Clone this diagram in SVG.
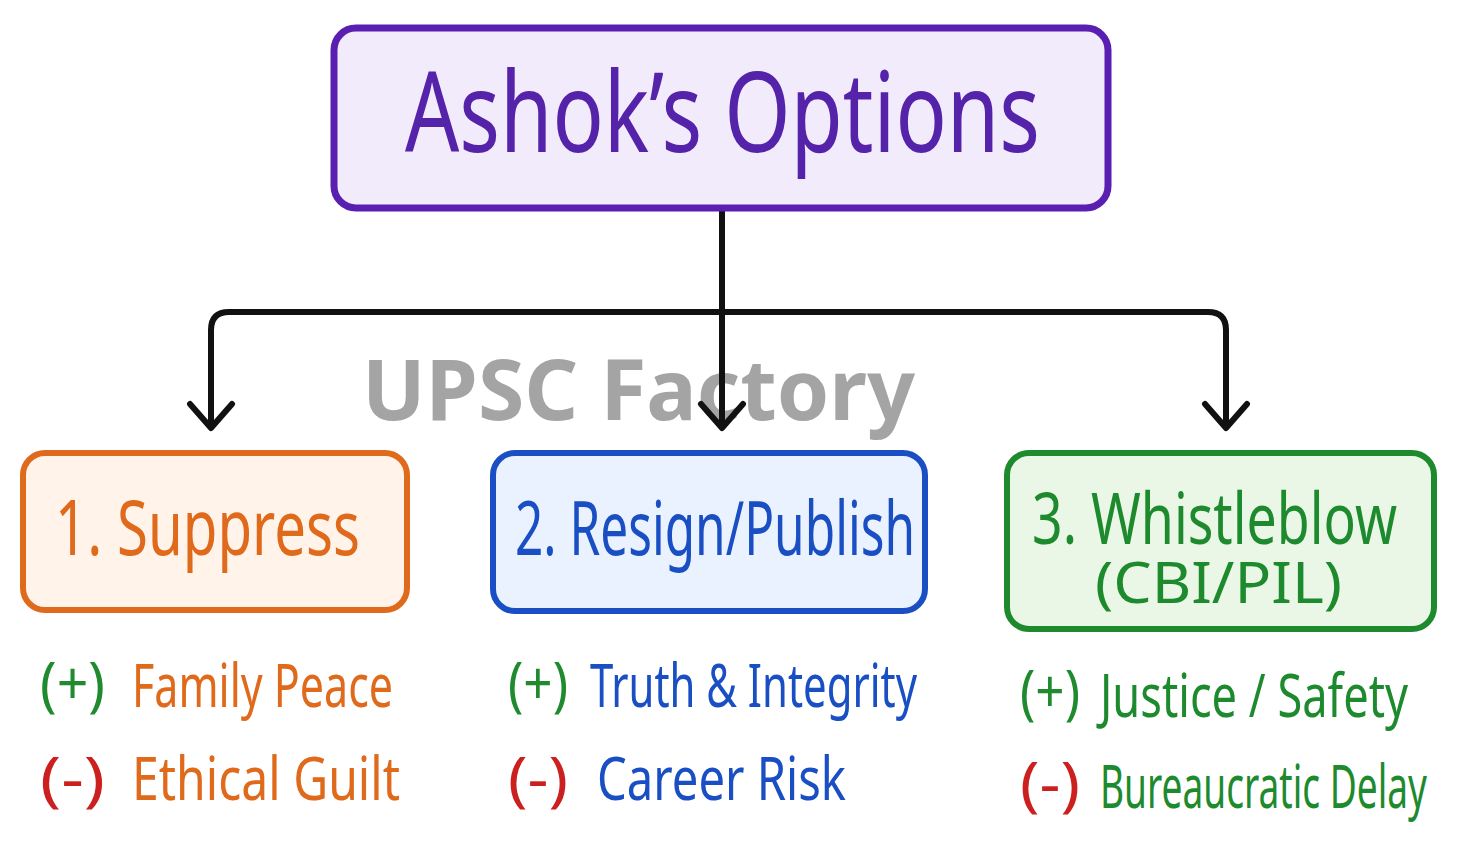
<svg xmlns="http://www.w3.org/2000/svg" width="1459" height="856" viewBox="0 0 1459 856">
<defs>
<style>
text{font-family:"Noto Sans","Liberation Sans",sans-serif;}
.box{stroke-width:6;}
.conn{fill:none;stroke:#111;stroke-width:6;stroke-linecap:round;stroke-linejoin:round;}
.head{fill:none;stroke:#111;stroke-width:6;stroke-linecap:round;stroke-linejoin:round;}
.pos{fill:#1f8a2e;}
.neg{fill:#cc1f1f;}
.item{font-size:60px;}
</style>
</defs>
<rect width="1459" height="856" fill="#ffffff"/>
<text x="362" y="420" font-size="84" font-weight="bold" fill="#9a9a9a" fill-opacity="0.9" textLength="553" lengthAdjust="spacingAndGlyphs">UPSC Factory</text>
<g id="connectors">
<path class="conn" d="M722 210 V426"/>
<path class="conn" d="M211 426 V330 Q211 312 229 312 H1208 Q1226 312 1226 330 V426"/>
<path class="head" d="M190 404 L211 428 L232 404"/>
<path class="head" d="M701 404 L722 428 L743 404"/>
<path class="head" d="M1205 404 L1226 428 L1247 404"/>
</g>
<g id="title">
<rect x="334" y="28" width="774" height="180" rx="22" fill="#f1ebfb" stroke="#5a1fb0" stroke-width="7"/>
<text x="405" y="152" font-size="112" fill="#5522aa" textLength="635" lengthAdjust="spacingAndGlyphs">Ashok’s Options</text>
</g>
<g id="opt1">
<rect x="23" y="453" width="384" height="157" rx="22" fill="#fff3ea" stroke="#e06a1c" class="box"/>
<text x="55" y="555" font-size="76" fill="#e06a1c" textLength="305" lengthAdjust="spacingAndGlyphs">1. Suppress</text>
</g>
<g id="opt2">
<rect x="493" y="453" width="432" height="158" rx="22" fill="#eaf2ff" stroke="#1a4fc4" class="box"/>
<text x="515" y="555" font-size="74" fill="#1a4fc4" textLength="400" lengthAdjust="spacingAndGlyphs">2. Resign/Publish</text>
</g>
<g id="opt3">
<rect x="1007" y="453" width="427" height="176" rx="22" fill="#eaf7e6" stroke="#1e8a2e" class="box"/>
<text x="1032" y="544" font-size="72" fill="#1e8a2e" textLength="365" lengthAdjust="spacingAndGlyphs">3. Whistleblow</text>
<text x="1095" y="603" font-size="56" fill="#1e8a2e" textLength="247" lengthAdjust="spacingAndGlyphs">(CBI/PIL)</text>
</g>
<g id="opt1-items">
<text class="item pos" x="40" y="705" textLength="65" lengthAdjust="spacingAndGlyphs">(+)</text>
<text class="item" x="132" y="707" fill="#e06a1c" textLength="261" lengthAdjust="spacingAndGlyphs">Family Peace</text>
<text class="item neg" x="40" y="800" textLength="65" lengthAdjust="spacingAndGlyphs">(-)</text>
<text class="item" x="132" y="800" fill="#e06a1c" textLength="268" lengthAdjust="spacingAndGlyphs">Ethical Guilt</text>
</g>
<g id="opt2-items">
<text class="item pos" x="508" y="705" textLength="60" lengthAdjust="spacingAndGlyphs">(+)</text>
<text class="item" x="590" y="707" fill="#1a4fc4" textLength="327" lengthAdjust="spacingAndGlyphs">Truth &amp; Integrity</text>
<text class="item neg" x="508" y="800" textLength="60" lengthAdjust="spacingAndGlyphs">(-)</text>
<text class="item" x="597" y="800" fill="#1a4fc4" textLength="249" lengthAdjust="spacingAndGlyphs">Career Risk</text>
</g>
<g id="opt3-items">
<text class="item pos" x="1020" y="713" textLength="60" lengthAdjust="spacingAndGlyphs">(+)</text>
<text class="item" x="1100" y="717" fill="#1e8a2e" textLength="308" lengthAdjust="spacingAndGlyphs">Justice / Safety</text>
<text class="item neg" x="1020" y="805" textLength="60" lengthAdjust="spacingAndGlyphs">(-)</text>
<text class="item" x="1100" y="808" fill="#1e8a2e" font-size="56" textLength="327" lengthAdjust="spacingAndGlyphs">Bureaucratic Delay</text>
</g>
</svg>
